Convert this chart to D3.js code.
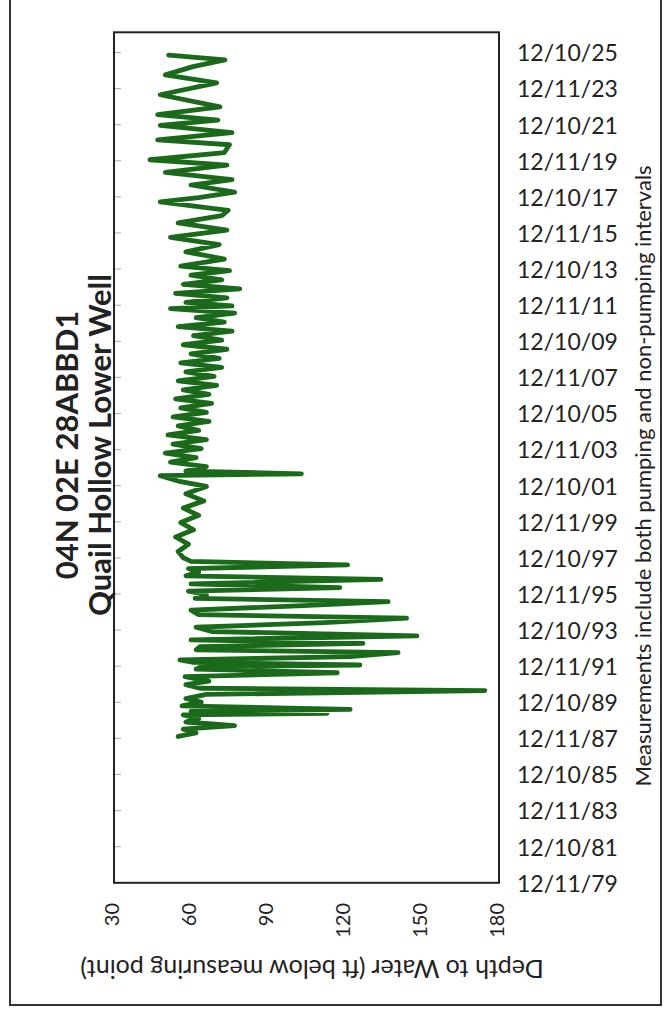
<!DOCTYPE html>
<html><head><meta charset="utf-8">
<script src="https://cdn.jsdelivr.net/npm/d3@7"></script>
<style>body{margin:0;background:#fff}svg{display:block}</style>
</head><body>
<svg id="chart" width="665" height="1012"></svg>
<script>
// Date tick labels (2-year major unit)
const tickLabels = ["12/11/79","12/10/81","12/11/83","12/10/85","12/11/87","12/10/89","12/11/91","12/10/93",
  "12/11/95","12/10/97","12/11/99","12/10/01","12/11/03","12/10/05","12/11/07","12/10/09","12/11/11",
  "12/10/13","12/11/15","12/10/17","12/11/19","12/10/21","12/11/23","12/10/25"];
const depthTicks = [30, 60, 90, 120, 150, 180];

// Measurement dates (decimal years) and depth to water (ft)
const years = [
  1988.05,1988.25,1988.45,1988.65,1988.85,1989.05,1989.24,1989.33,1989.44,1989.55,1989.74,1989.95,1990.15,1990.38,
  1990.59,1990.72,1990.92,1991.12,1991.36,1991.58,1991.78,1991.92,1992.01,1992.15,1992.29,1992.47,1992.69,1992.85,
  1993.02,1993.2,1993.4,1993.62,1993.86,1994.1,1994.35,1994.6,1994.8,1995.05,1995.3,1995.52,1995.7,1995.9,
  1996.1,1996.3,1996.5,1996.75,1996.95,1997.15,1997.35,1997.55,1997.75,1997.95,
  1998.3,1998.7,1999.1,1999.5,1999.9,2000.3,2000.7,2001.1,2001.5,2001.9,2002.2,2002.5,2002.6,2002.75,
  2003.0,2003.25,2003.5,2003.75,2004.0,2004.25,2004.5,2004.75,2005.0,2005.25,2005.5,2005.75,2006.0,2006.25,
  2006.5,2006.75,2007.0,2007.25,2007.5,2007.75,2008.0,2008.25,2008.5,2008.75,2009.0,2009.25,2009.5,2009.75,
  2010.0,2010.25,2010.5,2010.75,2011.0,2011.25,2011.5,2011.75,2011.9,2012.1,2012.35,2012.6,2012.85,2013.1,
  2013.35,2013.6,2013.85,2014.1,2014.5,2014.9,2015.3,2015.7,2016.1,2016.5,2016.9,2017.2,2017.67,2017.9,
  2018.2,2018.6,2018.9,2019.3,2019.7,2020.0,2020.4,2020.83,2021.1,2021.5,2021.9,2022.2,2022.5,2022.93,
  2023.6,2024.26,2024.7,2025.16,2025.53,2025.8];
const depths = [
  55,62,57,77,58,63,57,113,60,122,56.5,64,58,66,
  174.5,63.5,58,67,57.7,117,62,64,125.8,61,55.7,122,140.7,62,
  63.5,127,60,148,68,62,112,144,63,60,104,136.8,61.6,66,
  59,118,60,134,58,63,59,121,60,57,
  55,59,54,61,56,63,57,65,58,66,55,48,103,58,
  66,52,62,50,64,53,66,51,63,55,67,53,66,56,
  68,54,67,57,70,55,69,58,72,56,71,60,74,57,
  72,61,76,55,73,62,77,52,76,58,74,54,79,57,
  72,60,75,56,73,58,71,52,74,55,72,74.5,48,63,
  77,60,76,50,74,44,73,75,47,76,48,70.5,47,71.3,
  48,70,50,60.8,73.2,51.3];

const svg = d3.select("#chart");
const font = "Lato, 'Open Sans', sans-serif";
const parse = d3.timeParse("%m/%d/%y");
const fromYear = v => { const yr = Math.floor(v); const a = Date.UTC(yr,0,1), b = Date.UTC(yr+1,0,1); return new Date(a + (v-yr)*(b-a)); };

const plot = {left: 114, right: 499, top: 32.3, bottom: 882.8};
const x = d3.scaleLinear().domain([30, 180]).range([plot.left, plot.right]);
const y = d3.scaleTime().domain([parse("12/11/79"), new Date(2027, 0, 23)]).range([plot.bottom, plot.top]);

// outer frame
svg.append("rect").attr("x", 10).attr("y", -5).attr("width", 651).attr("height", 1010)
  .attr("fill", "none").attr("stroke", "#333").attr("stroke-width", 2);

// date axis: light ticks on the left edge, labels to the right of the plot
const tickDates = tickLabels.map(parse);
svg.append("g").selectAll("line").data(tickDates).join("line")
  .attr("x1", plot.left).attr("x2", plot.left + 7)
  .attr("y1", d => y(d)).attr("y2", d => y(d))
  .attr("stroke", "#aaa").attr("stroke-width", 1);
svg.append("g").selectAll("text").data(tickLabels).join("text")
  .attr("x", 517).attr("y", d => y(parse(d)) + 3)
  .attr("dominant-baseline", "middle")
  .attr("font-family", font).attr("font-size", 23).attr("fill", "#222")
  .text(d => d);

// depth axis labels (rotated)
svg.append("g").selectAll("text").data(depthTicks).join("text")
  .attr("transform", d => `translate(${x(d)},903) rotate(-90)`)
  .attr("text-anchor", "end").attr("dominant-baseline", "middle")
  .attr("font-family", font).attr("font-size", 20).attr("fill", "#222")
  .text(d => d);

// series line
const line = d3.line().x((d, i) => x(depths[i])).y((d, i) => y(fromYear(years[i])));
svg.append("path").datum(years).attr("d", line)
  .attr("fill", "none").attr("stroke", "#1b6a1b").attr("stroke-width", 4.8)
  .attr("stroke-linejoin", "round").attr("stroke-linecap", "round");

// plot frame
svg.append("rect").attr("x", plot.left).attr("y", plot.top)
  .attr("width", plot.right - plot.left).attr("height", plot.bottom - plot.top)
  .attr("fill", "none").attr("stroke", "#222").attr("stroke-width", 2);

// depth axis title (upside down)
svg.append("text").attr("transform", `translate(312,966) rotate(180)`)
  .attr("text-anchor", "middle").attr("dominant-baseline", "middle")
  .attr("font-family", font).attr("font-size", 25).attr("fill", "#222")
  .text("Depth to Water (ft below measuring point)");

// chart title (rotated)
const title = svg.append("text").attr("transform", "rotate(-90)")
  .attr("text-anchor", "middle").attr("font-family", font).attr("font-weight", "bold")
  .attr("font-size", 31).attr("fill", "#222");
title.append("tspan").attr("x", -445).attr("y", 78).text("04N 02E 28ABBD1");
title.append("tspan").attr("x", -445).attr("y", 111).text("Quail Hollow Lower Well");

// note
svg.append("text").attr("transform", "translate(645,476) rotate(-90)")
  .attr("text-anchor", "middle").attr("dominant-baseline", "middle")
  .attr("font-family", font).attr("font-size", 22).attr("fill", "#222")
  .text("Measurements include both pumping and non-pumping intervals");
</script>
</body></html>
